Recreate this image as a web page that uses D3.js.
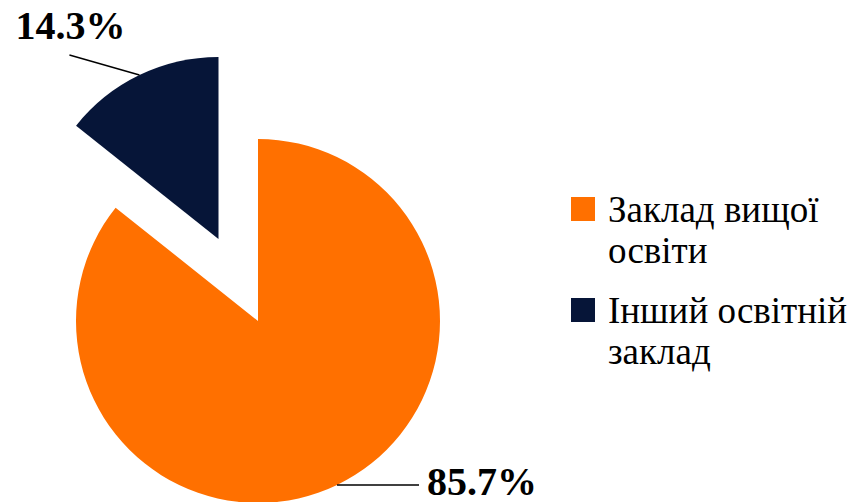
<!DOCTYPE html>
<html><head><meta charset="utf-8">
<script src="https://cdn.jsdelivr.net/npm/d3@7"></script>
<style>html,body{margin:0;padding:0;background:#fff}svg{display:block}</style>
</head><body>
<script>
const categories = ["Заклад вищої освіти", "Інший освітній заклад"];
const legendLines = [["Заклад вищої", "освіти"], ["Інший освітній", "заклад"]];
const values = [85.7, 14.3];
const valueLabels = ["85.7%", "14.3%"];
const colors = ["#FF7000", "#061538"];

const W = 850, H = 502;
const svg = d3.select("body").append("svg").attr("width", W).attr("height", H);
const font = "Liberation Serif";

const cx = 258, cy = 321, r = 182, explode = 91;
const pie = d3.pie().sort(null).value(d => d)(values);
const arc = d3.arc().innerRadius(0).outerRadius(r);
const g = svg.append("g").attr("transform", `translate(${cx},${cy})`);

pie.forEach((p, i) => {
  const mid = (p.startAngle + p.endAngle) / 2;
  const off = i === 1 ? explode : 0;
  const dx = Math.sin(mid) * off, dy = -Math.cos(mid) * off;
  const sg = g.append("g").attr("transform", `translate(${dx},${dy})`);
  sg.append("path").attr("d", arc(p)).attr("fill", colors[i]);
  const ox = Math.sin(mid) * r, oy = -Math.cos(mid) * r;
  let ex, ey, tx, ty, anchor;
  if (i === 0) { ex = ox + 82; ey = oy; tx = ex + 8; ty = ey + 10; anchor = "start"; }
  else { ex = ox - 70; ey = oy - 20; tx = ex + 1; ty = ey - 16; anchor = "middle"; }
  sg.append("line").attr("x1", ox).attr("y1", oy).attr("x2", ex).attr("y2", ey)
    .attr("stroke", "#000").attr("stroke-width", 1.5);
  sg.append("text").attr("x", tx).attr("y", ty).attr("text-anchor", anchor)
    .attr("font-family", font).attr("font-weight", "bold").attr("font-size", 40)
    .attr("fill", "#000").text(valueLabels[i]);
});

const lg = svg.append("g").attr("transform", "translate(571,197)");
categories.forEach((c, i) => {
  const row = lg.append("g").attr("transform", `translate(0,${i * 101})`);
  row.append("rect").attr("width", 24).attr("height", 24).attr("fill", colors[i]);
  legendLines[i].forEach((t, j) => {
    row.append("text").attr("x", 37).attr("y", 25 + j * 41)
      .attr("font-family", font).attr("font-size", 37).attr("fill", "#000").text(t);
  });
});
</script>
</body></html>
